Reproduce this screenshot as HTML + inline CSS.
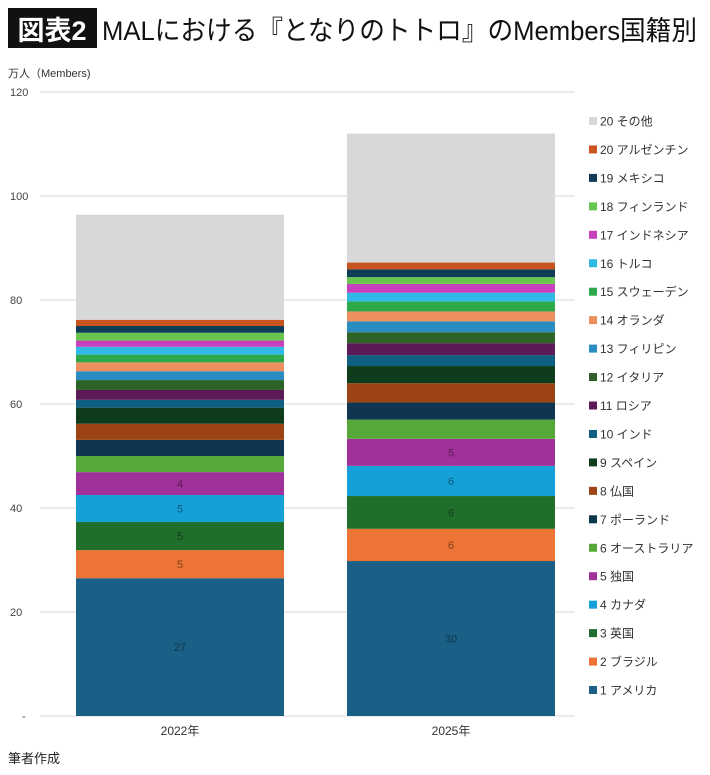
<!DOCTYPE html>
<html><head><meta charset="utf-8"><style>
body{margin:0;background:#fff;font-family:"Liberation Sans","Noto Sans CJK JP",sans-serif;}
#wrap{position:relative;width:710px;height:775px;overflow:hidden;}
</style></head><body>
<div id="wrap">
<svg id="chart" width="710" height="775" style="position:absolute;left:0;top:0"></svg>
</div>
<script>
const categories=["2022年","2025年"];
const seriesNames=["1 アメリカ","2 ブラジル","3 英国","4 カナダ","5 独国","6 オーストラリア","7 ポーランド","8 仏国","9 スペイン","10 インド","11 ロシア","12 イタリア","13 フィリピン","14 オランダ","15 スウェーデン","16 トルコ","17 インドネシア","18 フィンランド","19 メキシコ","20 アルゼンチン","20 その他"];
const values2022=[26.5,5.4,5.4,5.2,4.4,3.1,3.1,3.1,3.1,1.5,1.9,1.9,1.7,1.7,1.5,1.5,1.2,1.5,1.3,1.2,20.2];
const values2025=[29.8,6.2,6.3,5.8,5.2,3.7,3.3,3.7,3.3,2.1,2.3,2.1,2.1,1.9,1.9,1.7,1.7,1.3,1.5,1.3,24.8];
const labels2022=["27","5","5","5","4"];
const labels2025=["30","6","6","6","5"];
const yTicks=[0,20,40,60,80,100,120];
const yTickLabels=["-","20","40","60","80","100","120"];
const colors=["#1a5f85","#ec7434","#1f6f2a","#16a0d8","#a0309a","#56a838","#0f3650","#9c4413","#0f3d1c","#0f5f82","#5c1a57","#2e6226","#2a8cc0","#ec9060","#2ea84a","#30b8e6","#c840be","#68c64e","#0f3d55","#c95420","#d8d8d8"];
const NS="http://www.w3.org/2000/svg";
const svg=document.getElementById('chart');
const y0=716,yTop=92,yMax=120;
const yScale=v=>y0-(v/yMax)*(y0-yTop);
const barX=[76,347],barW=208;
function mk(tag,attrs,txt){const e=document.createElementNS(NS,tag);for(const k in attrs)e.setAttribute(k,attrs[k]);if(txt!=null)e.textContent=txt;svg.appendChild(e);return e;}
// title
let r=mk('rect',{x:8,y:8,width:89,height:40,fill:'#111'});


let t=mk('text',{x:52,y:40,'font-size':27,'font-weight':'bold',fill:'#fff','text-anchor':'middle'},'図表2');


t=mk('text',{x:102,y:40,'font-size':27,fill:'#111',textLength:595,lengthAdjust:'spacingAndGlyphs'},'MALにおける『となりのトトロ』のMembers国籍別');


t=mk('text',{x:8,y:77,'font-size':11,fill:'#333'},'万人（Members)');


// grid and ticks
yTicks.forEach((v,i)=>{
 if(v>0){let l=mk('line',{x1:40,x2:575,y1:yScale(v),y2:yScale(v),stroke:'#d9d9d9','stroke-width':1});
 
 }
 let tx=mk('text',{x:v===0?22:10,y:yScale(v)+4,'font-size':11,fill:'#444'},yTickLabels[i]);
 
 
});
let ax=mk('line',{x1:40,x2:575,y1:y0,y2:y0,stroke:'#d9d9d9','stroke-width':1});


// bars
[values2022,values2025].forEach((vals,ci)=>{
 const labs=ci===0?labels2022:labels2025;
 let cum=0;
 vals.forEach((v,si)=>{
  const yb=yScale(cum),yt=yScale(cum+v);
  let rc=mk('rect',{x:barX[ci],y:yt,width:barW,height:yb-yt,fill:colors[si]});
  
  
  if(labs[si]){let lt=mk('text',{x:barX[ci]+barW/2,y:(yb+yt)/2+4,'font-size':11,fill:'#000','fill-opacity':0.45,'text-anchor':'middle'},labs[si]);
   
   }
  cum+=v;
 });
 let xl=mk('text',{x:barX[ci]+barW/2,y:735,'font-size':12,fill:'#333','text-anchor':'middle'},categories[ci]);
 
 
});
// legend
seriesNames.forEach((n,i)=>{
 const idx=seriesNames.length-1-i;
 const yy=121+i*28.45;
 let s=mk('rect',{x:589,y:yy-4,width:8,height:8,fill:colors[idx]});
 
 
 let lt=mk('text',{x:600,y:yy+4.5,'font-size':12,fill:'#333'},seriesNames[idx]);
 
 
});
t=mk('text',{x:8,y:763,'font-size':13,fill:'#222'},'筆者作成');


</script>
</body></html>
